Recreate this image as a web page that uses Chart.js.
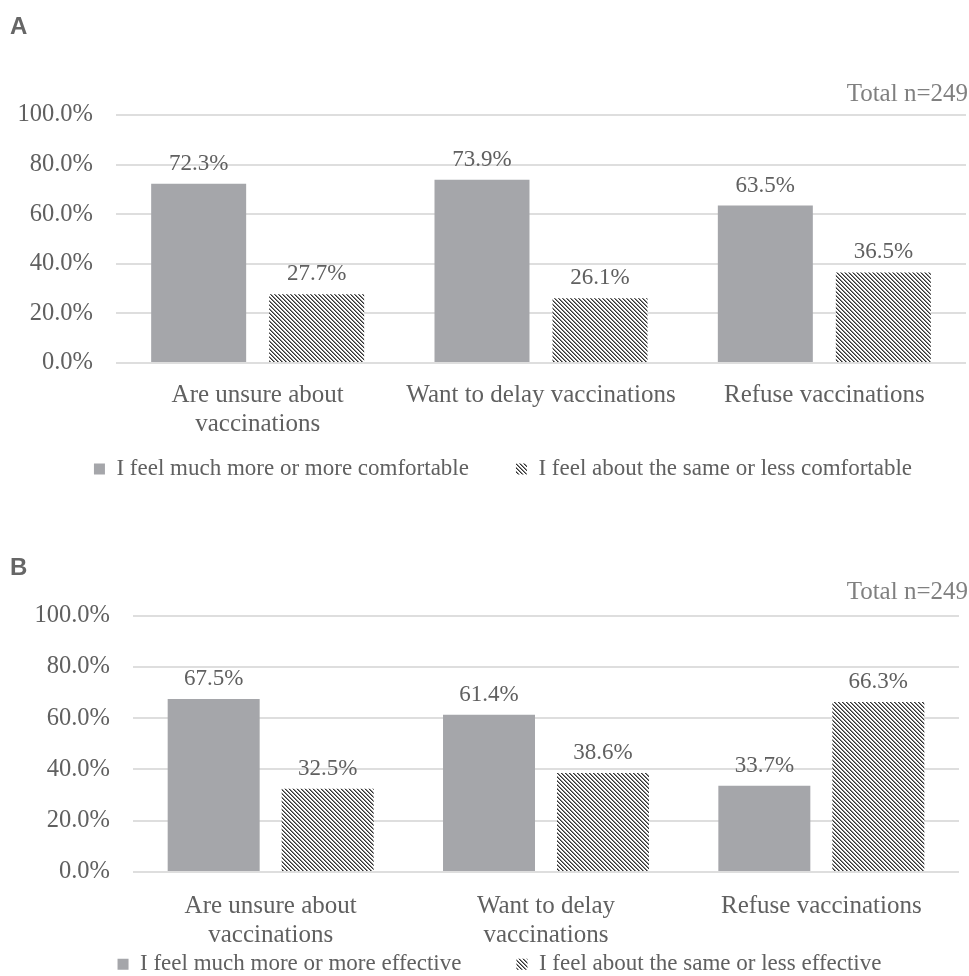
<!DOCTYPE html>
<html>
<head>
<meta charset="utf-8">
<title>Vaccination comfort / effectiveness</title>
<script src="https://cdn.jsdelivr.net/npm/chart.js@4.4.1/dist/chart.umd.min.js"></script>
<style>
  html, body { margin: 0; padding: 0; background: #fff; }
  body { width: 969px; height: 976px; position: relative; overflow: hidden; }
  .panel { position: absolute; left: 0; width: 969px; }
  .tag { position: absolute; left: 10px; line-height: 1; font: bold 24px "Liberation Sans", Arial, sans-serif; color: #666; }
  .total { position: absolute; right: 1px; line-height: 1; font: 25px "Liberation Serif", "Times New Roman", serif; color: #808080; }
</style>
</head>
<body>
<div class="panel" style="top:0;height:525px"><canvas id="chartA"></canvas></div>
<div class="panel" style="top:500px;height:537px"><canvas id="chartB"></canvas></div>
<div class="tag" style="top:12px">A</div>
<div class="total" style="top:79px">Total n=249</div>
<div class="tag" style="top:553px">B</div>
<div class="total" style="top:577px">Total n=249</div>

<script>
// ─── Data ─────────────────────────────────────────────────
const categoriesA = [['Are unsure about', 'vaccinations'], 'Want to delay vaccinations', 'Refuse vaccinations'];
const categoriesB = [['Are unsure about', 'vaccinations'], ['Want to delay', 'vaccinations'], 'Refuse vaccinations'];

const legendA = ['I feel much more or more comfortable', 'I feel about the same or less comfortable'];
const legendB = ['I feel much more or more effective', 'I feel about the same or less effective'];

const comfortMore = [72.3, 73.9, 63.5];
const comfortLess = [27.7, 26.1, 36.5];
const effectMore  = [67.5, 61.4, 33.7];
const effectLess  = [32.5, 38.6, 66.3];

const yMin = 0, yMax = 100, yStep = 20;

// ─── Styles ───────────────────────────────────────────────
const SERIF = '"Liberation Serif", "Times New Roman", serif';
const TEXT_GRAY = '#606060';
const BAR_GRAY = '#a5a6aa';
const GRID_GRAY = '#dedede';

function makeHatch() {
  const c = document.createElement('canvas');
  c.width = 4; c.height = 4;
  const g = c.getContext('2d');
  g.fillStyle = '#fff';
  g.fillRect(0, 0, 4, 4);
  for (let y = 0; y < 4; y++) {
    for (let x = 0; x < 4; x++) {
      const d = ((x - y) % 4 + 4) % 4;
      if (d === 0) { g.fillStyle = '#333'; g.fillRect(x, y, 1, 1); }
      if (d === 1) { g.fillStyle = '#888'; g.fillRect(x, y, 1, 1); }
    }
  }
  return g.createPattern(c, 'repeat');
}

// value above each bar
const valueLabels = {
  id: 'valueLabels',
  afterDatasetsDraw(chart) {
    const ctx = chart.ctx;
    ctx.save();
    ctx.font = '23px ' + SERIF;
    ctx.fillStyle = TEXT_GRAY;
    ctx.textAlign = 'center';
    ctx.textBaseline = 'alphabetic';
    chart.data.datasets.forEach((ds, i) => {
      chart.getDatasetMeta(i).data.forEach((bar, j) => {
        ctx.fillText(ds.data[j].toFixed(1) + '%', bar.x, bar.y - 14);
      });
    });
    ctx.restore();
  }
};

// move the legend box after layout (tick labels need room the legend shouldn't get)
const legendNudge = {
  id: 'legendNudge',
  afterLayout(chart, args, opts) {
    const lg = chart.legend;
    if (!lg) return;
    lg.left += opts.dx || 0; lg.right += opts.dx || 0;
    lg.top += opts.dy || 0;  lg.bottom += opts.dy || 0;
  }
};

function buildChart(id, o) {
  const hatch = makeHatch();
  return new Chart(document.getElementById(id), {
    type: 'bar',
    data: {
      labels: o.labels,
      datasets: [
        { label: o.names[0], data: o.more, backgroundColor: BAR_GRAY, borderWidth: 0,
          categoryPercentage: o.cp, barPercentage: o.bp },
        { label: o.names[1], data: o.less, backgroundColor: hatch, borderWidth: 0,
          categoryPercentage: o.cp, barPercentage: o.bp },
      ],
    },
    options: {
      responsive: true,
      maintainAspectRatio: false,
      animation: false,
      layout: { padding: { top: o.padTop, right: o.padRight, bottom: 2, left: 10 } },
      plugins: {
        legend: {
          position: 'bottom',
          labels: {
            font: { family: SERIF, size: 23 },
            color: TEXT_GRAY,
            boxWidth: 11, boxHeight: 11,
            padding: o.legendGap,
          },
        },
        legendNudge: { dx: 15, dy: o.legendDy },
        tooltip: { enabled: false },
      },
      scales: {
        x: {
          grid: { display: false },
          border: { display: false },
          ticks: {
            font: { family: SERIF, size: 25, lineHeight: 1.16 },
            color: TEXT_GRAY,
            maxRotation: 0, autoSkip: false,
            padding: o.xPad,
          },
          afterFit: s => { s.height = o.xHeight; },
        },
        y: {
          min: yMin, max: yMax,
          ticks: {
            stepSize: yStep,
            callback: v => v.toFixed(1) + '%',
            font: { family: SERIF, size: 24.5 },
            color: TEXT_GRAY,
            padding: 23,
          },
          grid: { color: GRID_GRAY, lineWidth: 2, drawTicks: false },
          border: { display: false },
          afterFit: s => { s.width = o.yWidth; },
        },
      },
    },
    plugins: [valueLabels, legendNudge],
  });
}

buildChart('chartA', {
  labels: categoriesA, names: legendA, more: comfortMore, less: comfortLess,
  cp: 0.833, bp: 0.805,
  padTop: 115, padRight: 3,
  yWidth: 106, xHeight: 80, xPad: 10, legendGap: 47, legendDy: -32.5,
});

buildChart('chartB', {
  labels: categoriesB, names: legendB, more: effectMore, less: effectLess,
  cp: 0.828, bp: 0.807,
  padTop: 115.7, padRight: 10,
  yWidth: 123, xHeight: 75, xPad: 12, legendGap: 55, legendDy: -49.2,
});
</script>
</body>
</html>
